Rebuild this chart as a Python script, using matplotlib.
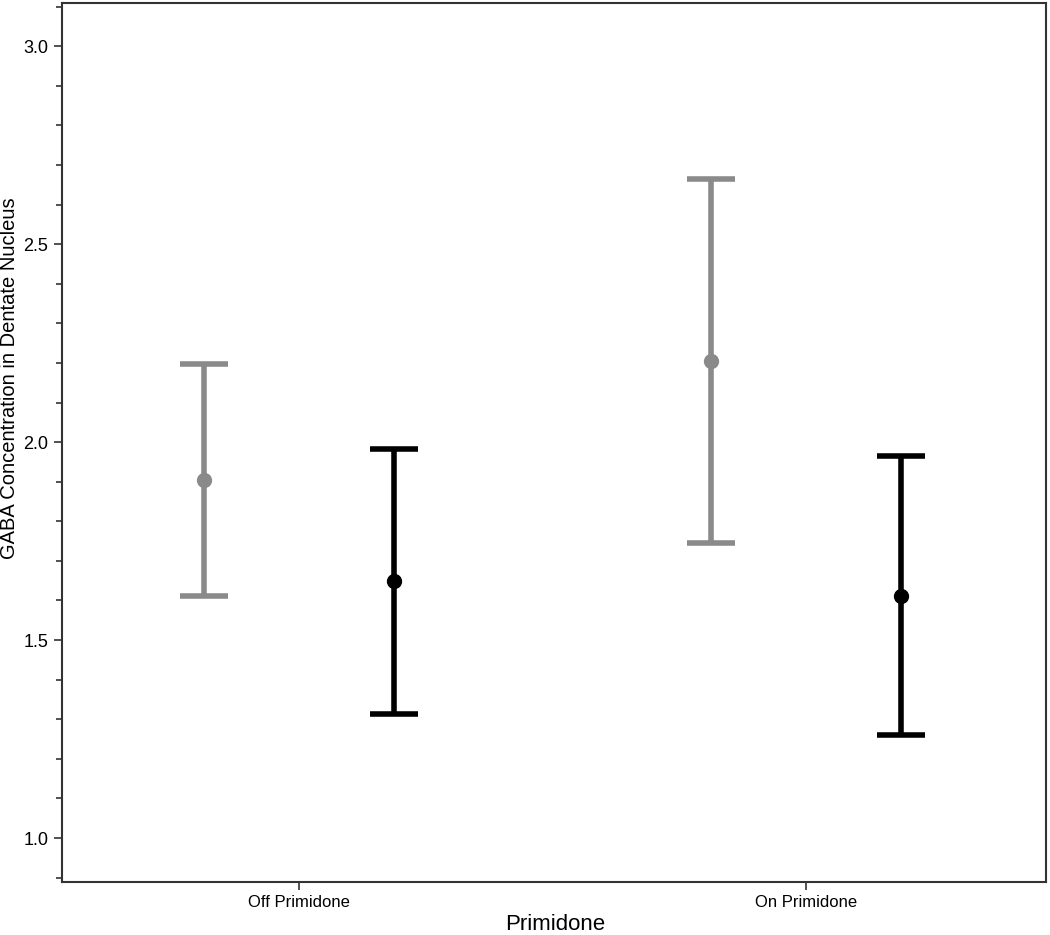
import numpy as np
import matplotlib.pyplot as plt
from matplotlib.ticker import MultipleLocator

plt.rcParams['font.family'] = ['Liberation Sans', 'DejaVu Sans']

groups = ['Off Primidone', 'On Primidone']
gray_mean = [1.904, 2.205]
gray_low = [1.611, 1.745]
gray_high = [2.197, 2.664]
black_mean = [1.649, 1.611]
black_low = [1.313, 1.260]
black_high = [1.982, 1.965]

W, H = 1050, 935
fig = plt.figure(figsize=(W / 100, H / 100), dpi=100)
ax = fig.add_axes([61.5 / W, 1 - 882 / H, (1046 - 61.5) / W, (882 - 3) / H])

x = np.arange(len(groups))
off = 0.187

def draw(xpos, mean, low, high, color):
    mean = np.array(mean)
    err = [mean - np.array(low), np.array(high) - mean]
    ax.errorbar(xpos, mean, yerr=err, fmt='o', color=color, ecolor=color,
                elinewidth=4, capsize=17, capthick=4, markersize=10)

draw(x - off, gray_mean, gray_low, gray_high, '#8a8a8a')
draw(x + off, black_mean, black_low, black_high, 'black')

ax.set_xlim(-0.469, 1.473)
ax.set_ylim(0.889, 3.109)
ax.set_xticks(x)
ax.set_xticklabels(groups, fontsize=12)
ax.yaxis.set_minor_locator(MultipleLocator(0.1))
ax.set_yticks([1.0, 1.5, 2.0, 2.5, 3.0])
ax.set_yticklabels(['1.0', '1.5', '2.0', '2.5', '3.0'], fontsize=13)
ax.tick_params(axis='both', which='major', length=6, width=1.2, color='#333333')
ax.tick_params(axis='y', which='minor', length=4, width=1.2, color='#333333')
for s in ax.spines.values():
    s.set_color('#333333')
    s.set_linewidth(1.5)

# axis titles placed in figure pixels to match the reference
fig.text(555 / W, 1 - 925 / H, 'Primidone', fontsize=16, ha='center', va='center')
fig.text(10 / W, 1 - 378 / H, 'GABA Concentration in Dentate Nucleus', fontsize=14.5,
         rotation=90, ha='center', va='center')

fig.savefig('out.png', dpi=100)
